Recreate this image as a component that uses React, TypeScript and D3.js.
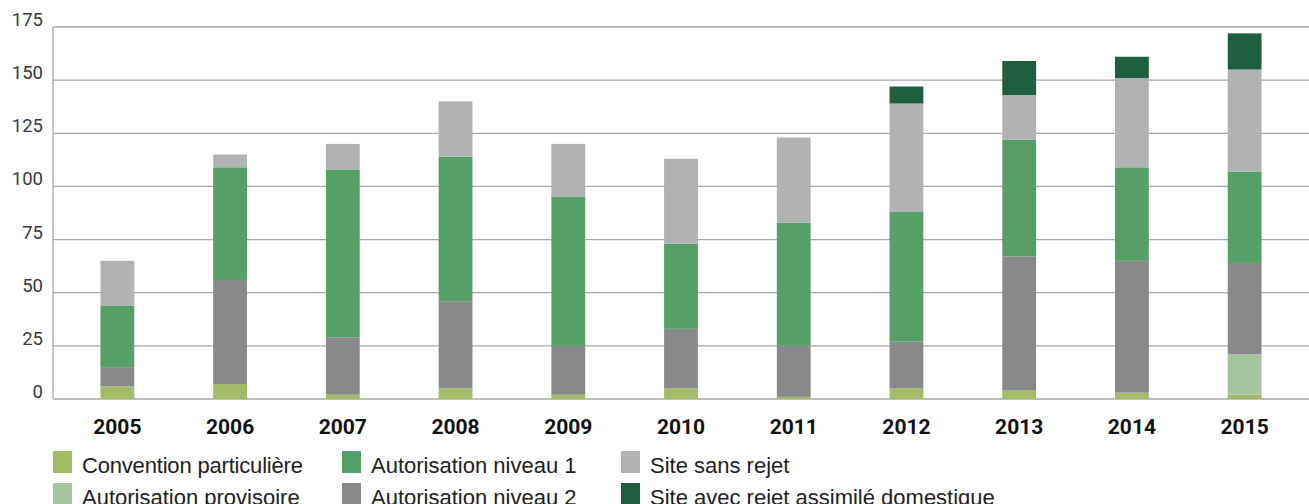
import React, { useEffect, useRef } from "react";
import * as d3 from "d3";

const years = ["2005", "2006", "2007", "2008", "2009", "2010", "2011", "2012", "2013", "2014", "2015"];
const convention = [6, 7, 2, 5, 2, 5, 1, 5, 4, 3, 2];
const provisoire = [0, 0, 0, 0, 0, 0, 0, 0, 0, 0, 19];
const niveau2 = [9, 49, 27, 41, 23, 28, 24, 22, 63, 62, 43];
const niveau1 = [29, 53, 79, 68, 70, 40, 58, 61, 55, 44, 43];
const sansRejet = [21, 6, 12, 26, 25, 40, 40, 51, 21, 42, 48];
const domestique = [0, 0, 0, 0, 0, 0, 0, 8, 16, 10, 17];
const yTicks = [0, 25, 50, 75, 100, 125, 150, 175];

const seriesKeys = ["conv", "prov", "niv2", "niv1", "sans", "dom"];
const seriesNames: Record<string, string> = {
  conv: "Convention particulière",
  prov: "Autorisation provisoire",
  niv2: "Autorisation  niveau 2",
  niv1: "Autorisation niveau 1",
  sans: "Site sans rejet",
  dom: "Site avec rejet assimilé domestique",
};
const colors: Record<string, string> = {
  conv: "#a3ba66",
  prov: "#a5c5a1",
  niv2: "#88898a",
  niv1: "#569f66",
  sans: "#b1b2b3",
  dom: "#1d5f3f",
};
// legend order: column by column, two rows
const legendOrder = ["conv", "prov", "niv1", "niv2", "sans", "dom"];

export default function App() {
  const ref = useRef<SVGSVGElement>(null);

  useEffect(() => {
    const svg = d3.select(ref.current);
    svg.selectAll("*").remove();

    const rows = years.map((y, i) => ({
      year: y,
      conv: convention[i],
      prov: provisoire[i],
      niv2: niveau2[i],
      niv1: niveau1[i],
      sans: sansRejet[i],
      dom: domestique[i],
    }));

    const left = 53, right = 1309, top = 27, bottom = 399;
    const x = d3.scaleBand().domain(years).range([61, 1301]).paddingInner(0.7).paddingOuter(0.35);
    const y = d3.scaleLinear().domain([0, 175]).range([bottom, top]);

    // grid
    svg.append("g").selectAll("line").data(yTicks).join("line")
      .attr("x1", left).attr("x2", right)
      .attr("y1", d => y(d)).attr("y2", d => y(d))
      .attr("stroke", "#a9a9a9").attr("stroke-width", 1.3);
    svg.append("line").attr("x1", left).attr("x2", left).attr("y1", top).attr("y2", bottom)
      .attr("stroke", "#a9a9a9").attr("stroke-width", 1.3);

    svg.append("g").selectAll("text").data(yTicks).join("text")
      .attr("x", 43).attr("y", d => y(d) - 1)
      .attr("text-anchor", "end")
      .attr("font-family", "Roboto, sans-serif").attr("font-size", 18.5).attr("fill", "#3a3a3a")
      .text(d => d);

    const stack = d3.stack<any>().keys(seriesKeys);
    const layers = stack(rows);

    svg.append("g").selectAll("g").data(layers).join("g")
      .attr("fill", d => colors[d.key])
      .selectAll("rect").data(d => d).join("rect")
      .attr("x", d => x(d.data.year)!)
      .attr("width", x.bandwidth())
      .attr("y", d => y(d[1]))
      .attr("height", d => y(d[0]) - y(d[1]));

    svg.append("g").selectAll("text").data(years).join("text")
      .attr("x", d => x(d)! + x.bandwidth() / 2).attr("y", 434)
      .attr("text-anchor", "middle")
      .attr("font-family", "Roboto, sans-serif").attr("font-weight", "bold").attr("font-size", 21).attr("fill", "#111")
      .text(d => d);

    // second legend row is cut by the bottom edge, as in the original
    const colX = [53, 342, 621];
    const legend = svg.append("g").selectAll("g").data(legendOrder).join("g")
      .attr("transform", (d, i) => `translate(${colX[Math.floor(i / 2)]},${451 + (i % 2) * 32})`);
    legend.append("rect").attr("width", 19).attr("height", 22).attr("fill", d => colors[d]);
    legend.append("text").attr("x", 29).attr("y", 22)
      .attr("font-family", "'Liberation Sans Narrow', sans-serif").attr("font-size", 22).attr("fill", "#222")
      .attr("textLength", d => d === "conv" ? 221 : null)
      .text(d => seriesNames[d]);
  }, []);

  return (
    <svg ref={ref} width={1309} height={504}
      style={{ position: "absolute", left: 0, top: 0, background: "#fff" }} />
  );
}
